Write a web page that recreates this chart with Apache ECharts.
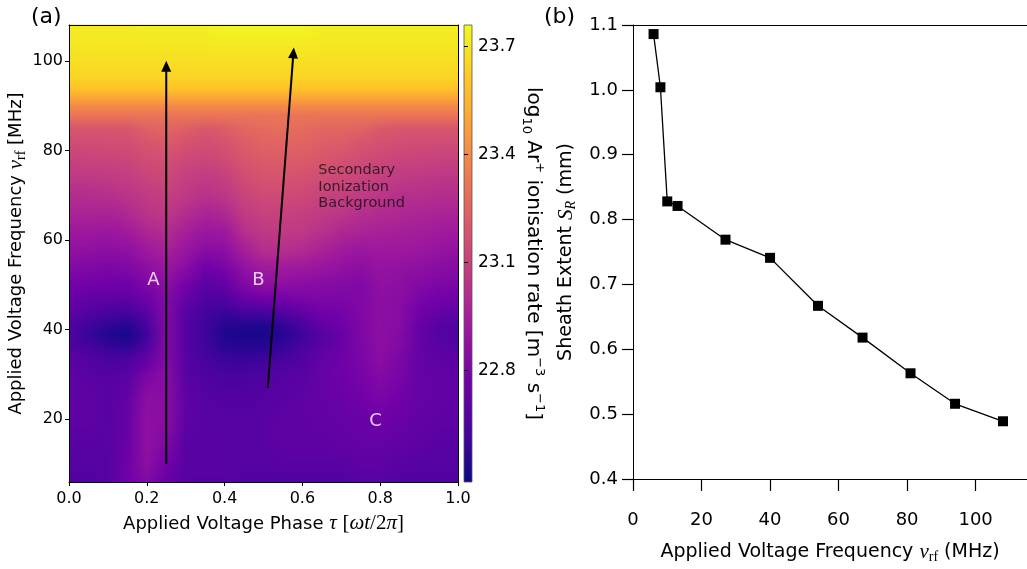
<!DOCTYPE html>
<html><head><meta charset="utf-8">
<script src="https://cdn.jsdelivr.net/npm/echarts@6/dist/echarts.min.js"></script>
<style>html,body{margin:0;padding:0;background:#fff}#c{width:1027px;height:569px}</style>
</head><body><div id="c"></div><script>
// ---------- Panel (a): ionisation-rate map (log10 values) ----------
const phases = [0,0.05,0.1,0.15,0.2,0.25,0.3,0.35,0.4,0.45,0.5,0.55,0.6,0.65,0.7,0.75,0.8,0.85,0.9,0.95,1.0];
const freqs = [6,10,15,20,25,30,34,37,39,41,44,47,50,54,58,62,66,70,74,78,82,85,88,90,92,94,97,100,104,108];
const rateAt6   = [22.67,22.67,22.68,22.77,22.82,22.74,22.68,22.68,22.68,22.67,22.67,22.67,22.67,22.67,22.67,22.68,22.68,22.67,22.67,22.67,22.67];
const rateAt10  = [22.68,22.68,22.68,22.76,22.86,22.77,22.69,22.69,22.69,22.68,22.68,22.69,22.69,22.69,22.69,22.71,22.71,22.69,22.68,22.68,22.68];
const rateAt15  = [22.69,22.69,22.69,22.74,22.87,22.82,22.69,22.69,22.69,22.68,22.69,22.71,22.71,22.71,22.72,22.73,22.73,22.72,22.71,22.69,22.69];
const rateAt20  = [22.71,22.71,22.69,22.73,22.87,22.85,22.71,22.69,22.68,22.68,22.69,22.71,22.71,22.72,22.73,22.74,22.76,22.74,22.72,22.71,22.71];
const rateAt25  = [22.71,22.71,22.69,22.72,22.85,22.85,22.71,22.68,22.67,22.67,22.68,22.69,22.71,22.73,22.74,22.77,22.80,22.77,22.73,22.72,22.71];
const rateAt30  = [22.71,22.69,22.68,22.69,22.80,22.85,22.69,22.66,22.64,22.64,22.66,22.68,22.69,22.73,22.76,22.79,22.83,22.80,22.73,22.72,22.71];
const rateAt34  = [22.69,22.67,22.64,22.64,22.71,22.83,22.69,22.63,22.60,22.59,22.60,22.63,22.67,22.72,22.76,22.80,22.85,22.81,22.73,22.71,22.69];
const rateAt37  = [22.67,22.62,22.58,22.55,22.64,22.83,22.68,22.62,22.55,22.54,22.54,22.58,22.63,22.69,22.74,22.81,22.86,22.83,22.73,22.69,22.67];
const rateAt39  = [22.66,22.60,22.54,22.52,22.62,22.83,22.68,22.62,22.54,22.52,22.52,22.55,22.62,22.68,22.74,22.81,22.86,22.83,22.73,22.68,22.66];
const rateAt41  = [22.67,22.62,22.58,22.55,22.64,22.83,22.68,22.62,22.55,22.54,22.54,22.58,22.64,22.71,22.76,22.81,22.86,22.84,22.74,22.69,22.67];
const rateAt44  = [22.71,22.67,22.64,22.63,22.69,22.83,22.69,22.63,22.60,22.63,22.64,22.67,22.72,22.77,22.78,22.82,22.86,22.84,22.77,22.73,22.71];
const rateAt47  = [22.74,22.72,22.71,22.71,22.76,22.83,22.73,22.66,22.67,22.74,22.77,22.78,22.80,22.81,22.81,22.82,22.86,22.85,22.80,22.77,22.76];
const rateAt50  = [22.78,22.77,22.76,22.76,22.81,22.86,22.78,22.69,22.72,22.82,22.86,22.86,22.85,22.84,22.83,22.82,22.87,22.86,22.83,22.81,22.80];
const rateAt54  = [22.83,22.82,22.81,22.82,22.86,22.91,22.85,22.77,22.80,22.88,22.93,22.93,22.92,22.90,22.88,22.86,22.89,22.88,22.87,22.85,22.84];
const rateAt58  = [22.88,22.87,22.86,22.87,22.92,22.96,22.90,22.85,22.86,22.95,23.02,23.02,23.00,22.97,22.93,22.91,22.92,22.92,22.91,22.89,22.88];
const rateAt62  = [22.92,22.92,22.91,22.93,22.98,23.01,22.95,22.91,22.92,23.02,23.06,23.07,23.06,23.03,22.99,22.97,22.96,22.95,22.94,22.93,22.92];
const rateAt66  = [22.97,22.97,22.97,22.99,23.04,23.06,23.01,22.97,22.99,23.07,23.10,23.10,23.09,23.07,23.05,23.02,23.00,22.99,22.98,22.97,22.97];
const rateAt70  = [23.01,23.01,23.02,23.04,23.07,23.09,23.06,23.03,23.05,23.11,23.14,23.14,23.13,23.11,23.09,23.07,23.05,23.02,23.02,23.01,23.01];
const rateAt74  = [23.06,23.06,23.07,23.08,23.11,23.13,23.09,23.07,23.09,23.15,23.18,23.18,23.17,23.15,23.13,23.11,23.09,23.07,23.06,23.05,23.05];
const rateAt78  = [23.10,23.11,23.11,23.12,23.15,23.16,23.13,23.12,23.14,23.19,23.21,23.22,23.21,23.19,23.17,23.15,23.13,23.11,23.11,23.10,23.10];
const rateAt82  = [23.15,23.15,23.16,23.16,23.19,23.21,23.18,23.16,23.18,23.22,23.25,23.25,23.25,23.23,23.22,23.19,23.17,23.16,23.15,23.15,23.15];
const rateAt85  = [23.19,23.19,23.19,23.19,23.24,23.26,23.23,23.20,23.22,23.26,23.28,23.29,23.28,23.26,23.26,23.25,23.21,23.19,23.19,23.19,23.19];
const rateAt88  = [23.32,23.32,23.32,23.32,23.32,23.32,23.32,23.32,23.32,23.32,23.32,23.32,23.32,23.32,23.32,23.32,23.32,23.32,23.32,23.32,23.32];
const rateAt90  = [23.40,23.40,23.40,23.40,23.40,23.40,23.40,23.40,23.40,23.40,23.40,23.40,23.40,23.40,23.40,23.40,23.40,23.40,23.40,23.40,23.40];
const rateAt92  = [23.51,23.51,23.51,23.51,23.51,23.51,23.51,23.51,23.51,23.51,23.51,23.51,23.51,23.51,23.51,23.51,23.51,23.51,23.51,23.51,23.51];
const rateAt94  = [23.60,23.60,23.60,23.60,23.60,23.60,23.60,23.60,23.60,23.60,23.60,23.60,23.60,23.60,23.60,23.60,23.60,23.60,23.60,23.60,23.60];
const rateAt97  = [23.66,23.66,23.66,23.66,23.66,23.66,23.66,23.66,23.66,23.66,23.66,23.66,23.66,23.66,23.66,23.66,23.66,23.66,23.66,23.66,23.66];
const rateAt100 = [23.68,23.68,23.68,23.68,23.68,23.68,23.68,23.68,23.68,23.68,23.68,23.68,23.68,23.68,23.68,23.68,23.68,23.68,23.68,23.68,23.68];
const rateAt104 = [23.71,23.71,23.71,23.71,23.71,23.71,23.71,23.71,23.72,23.72,23.72,23.72,23.72,23.71,23.71,23.71,23.71,23.71,23.71,23.71,23.71];
const rateAt108 = [23.72,23.72,23.72,23.72,23.73,23.73,23.73,23.73,23.75,23.75,23.75,23.75,23.75,23.73,23.73,23.73,23.73,23.73,23.73,23.73,23.73];
const ionRate = [rateAt6,rateAt10,rateAt15,rateAt20,rateAt25,rateAt30,rateAt34,rateAt37,rateAt39,rateAt41,rateAt44,rateAt47,rateAt50,
  rateAt54,rateAt58,rateAt62,rateAt66,rateAt70,rateAt74,rateAt78,rateAt82,rateAt85,rateAt88,rateAt90,rateAt92,rateAt94,rateAt97,rateAt100,rateAt104,rateAt108];

const colorbarRange = [22.49, 23.76];
const colorbarTicks = [22.8, 23.1, 23.4, 23.7];
const phaseTicks = [0, 0.2, 0.4, 0.6, 0.8, 1.0];
const freqTicks = [20, 40, 60, 80, 100];

// annotations of panel (a)
const arrowA = [0.25, 10, 0.25, 100];
const arrowB = [0.511, 27, 0.578, 103];
const regionLabels = ['A', 'B', 'C'];
const regionPos = [[0.217, 51], [0.487, 51], [0.788, 19.5]];
const noteText = 'Secondary\nIonization\nBackground';
const notePos = [0.641, 71.9];

// ---------- Panel (b): sheath extent ----------
const rfFreq = [6, 8, 10, 13, 27, 40, 54, 67, 81, 94, 108];
const sheathExtent = [1.086, 1.004, 0.828, 0.821, 0.769, 0.741, 0.667, 0.618, 0.563, 0.516, 0.489];

// ---------- colour map (plasma) ----------
const plasmaStops = ['#0d0887','#46039f','#7201a8','#9c179e','#bd3786','#d8576b','#ed7953','#fb9f3a','#fdca26','#f0f921'];
const plasmaRGB = plasmaStops.map(h => [parseInt(h.substr(1,2),16), parseInt(h.substr(3,2),16), parseInt(h.substr(5,2),16)]);
function plasma(t) {
  t = Math.max(0, Math.min(1, t));
  const s = t * (plasmaRGB.length - 1);
  const i = Math.min(plasmaRGB.length - 2, Math.floor(s));
  const f = s - i;
  const a = plasmaRGB[i], b = plasmaRGB[i + 1];
  return 'rgb(' + Math.round(a[0] + (b[0]-a[0])*f) + ',' + Math.round(a[1] + (b[1]-a[1])*f) + ',' + Math.round(a[2] + (b[2]-a[2])*f) + ')';
}
function colorOf(v) { return plasma((v - colorbarRange[0]) / (colorbarRange[1] - colorbarRange[0])); }

const FONT = 'DejaVu Sans';
const MATH = 'Liberation Serif';
const chart = echarts.init(document.getElementById('c'), null, {renderer: 'canvas', width: 1027, height: 569});

function heatBand(params, api) {
  const j = api.value(2);
  const lo = ionRate[j], hi = ionRate[j + 1];
  const yLo = api.coord([0, freqs[j]])[1];
  const yHi = api.coord([0, freqs[j + 1]])[1];
  const xs = phases.map(p => api.coord([p, freqs[j]])[0]);
  const x0 = xs[0], x1 = xs[xs.length - 1];
  const n = Math.max(1, Math.ceil(Math.abs(yLo - yHi)));
  const children = [];
  for (let k = 0; k < n; k++) {
    const sm = (k + 0.5) / n;
    const ya = yLo + (yHi - yLo) * k / n;
    const yb = yLo + (yHi - yLo) * (k + 1) / n;
    const stops = phases.map((p, i) => ({offset: (xs[i] - x0) / (x1 - x0), color: colorOf(lo[i] * (1 - sm) + hi[i] * sm)}));
    children.push({type: 'rect', shape: {x: x0, y: Math.min(ya, yb) - 0.4, width: x1 - x0, height: Math.abs(yb - ya) + 0.8},
      style: {fill: {type: 'linear', x: 0, y: 0, x2: 1, y2: 0, colorStops: stops}}});
  }
  return {type: 'group', children};
}

function arrowItem(params, api) {
  const s = api.coord([api.value(0), api.value(1)]);
  const e = api.coord([api.value(2), api.value(3)]);
  const dx = e[0] - s[0], dy = e[1] - s[1];
  const len = Math.sqrt(dx*dx + dy*dy);
  const ux = dx / len, uy = dy / len;
  const hl = 11, hw = 5;
  const bx = e[0] - ux * hl, by = e[1] - uy * hl;
  return {type: 'group', children: [
    {type: 'line', shape: {x1: s[0], y1: s[1], x2: bx + ux, y2: by + uy}, style: {stroke: '#000', lineWidth: 2}},
    {type: 'polygon', shape: {points: [[e[0], e[1]], [bx - uy*hw, by + ux*hw], [bx + uy*hw, by - ux*hw]]}, style: {fill: '#000'}}
  ]};
}

function colorbarItem(params, api) {
  const a = api.coord([0, colorbarRange[0]]);
  const b = api.coord([1, colorbarRange[1]]);
  return {type: 'rect', shape: {x: a[0], y: b[1], width: b[0] - a[0], height: a[1] - b[1]},
    style: {fill: {type: 'linear', x: 0, y: 1, x2: 0, y2: 0,
      colorStops: plasmaStops.map((c, i) => ({offset: i / (plasmaStops.length - 1), color: c}))},
      stroke: '#555', lineWidth: 0.8}};
}

const mathRich = {
  it: {fontFamily: MATH, fontStyle: 'italic', fontSize: 21, color: '#000'},
  rm: {fontFamily: MATH, fontSize: 21, color: '#000'},
  sub: {fontFamily: MATH, fontSize: 14, verticalAlign: 'bottom', color: '#000'},
  subit: {fontFamily: MATH, fontStyle: 'italic', fontSize: 14, verticalAlign: 'bottom', color: '#000'},
  ssub: {fontFamily: FONT, fontSize: 13, verticalAlign: 'bottom', color: '#000'},
  sup: {fontFamily: FONT, fontSize: 13, verticalAlign: 'top', color: '#000'}
};

const frameAxis = {axisLine: {show: true, onZero: false, lineStyle: {color: '#000', width: 1}}, axisTick: {show: false}, axisLabel: {show: false}, splitLine: {show: false}, z: 5};

const option = {
  animation: false,
  backgroundColor: '#fff',
  textStyle: {fontFamily: FONT},
  grid: [
    {left: 69, top: 25, width: 389, height: 457},
    {left: 464, top: 25, width: 8, height: 457},
    {left: 633, top: 25, width: 405, height: 458}
  ],
  xAxis: [
    {gridIndex: 0, type: 'value', min: 0, max: 1, position: 'bottom', z: 5,
      axisLine: {show: true, onZero: false, lineStyle: {color: '#000', width: 1}},
      axisTick: {show: true, length: 4, customValues: phaseTicks, lineStyle: {color: '#000'}},
      axisLabel: {color: '#000', fontSize: 16, margin: 9, customValues: phaseTicks, formatter: v => v.toFixed(1)},
      splitLine: {show: false},
      name: 'Applied Voltage Phase {it|τ} {rm|[}{it|ωt}{rm|/2}{it|π}{rm|]}', nameLocation: 'middle', nameGap: 26,
      nameTextStyle: {fontSize: 18, color: '#000', lineHeight: 24, rich: mathRich}},
    Object.assign({gridIndex: 0, type: 'value', min: 0, max: 1, position: 'top'}, frameAxis),
    {gridIndex: 1, type: 'value', min: 0, max: 1, show: false},
    {gridIndex: 2, type: 'value', min: 0, max: 115, interval: 20, position: 'bottom',
      axisLine: {show: true, onZero: false, lineStyle: {color: '#000', width: 1}},
      axisTick: {show: true, length: 12, lineStyle: {color: '#000', width: 1.2}},
      axisLabel: {color: '#000', fontSize: 18, margin: 32, showMaxLabel: false},
      splitLine: {show: false},
      name: 'Applied Voltage Frequency {it|ν}{sub|rf} (MHz)', nameLocation: 'middle', nameGap: 61,
      nameTextStyle: {fontSize: 19, color: '#000', lineHeight: 24, rich: mathRich}},
    Object.assign({gridIndex: 2, type: 'value', min: 0, max: 115, position: 'top'}, frameAxis)
  ],
  yAxis: [
    {gridIndex: 0, type: 'value', min: 6, max: 108, position: 'left', z: 5,
      axisLine: {show: true, onZero: false, lineStyle: {color: '#000', width: 1}},
      axisTick: {show: true, length: 4, customValues: freqTicks, lineStyle: {color: '#000'}},
      axisLabel: {color: '#000', fontSize: 16, margin: 6, customValues: freqTicks},
      splitLine: {show: false},
      name: 'Applied Voltage Frequency {it|ν}{sub|rf} [MHz]', nameLocation: 'middle', nameGap: 31,
      nameTextStyle: {fontSize: 18, color: '#000', lineHeight: 24, rich: mathRich}},
    Object.assign({gridIndex: 0, type: 'value', min: 6, max: 108, position: 'right'}, frameAxis),
    {gridIndex: 1, type: 'value', min: colorbarRange[0], max: colorbarRange[1], position: 'right', z: 5,
      axisLine: {show: false},
      axisTick: {show: true, length: 4, customValues: colorbarTicks, lineStyle: {color: '#000'}},
      axisLabel: {color: '#000', fontSize: 17, margin: 6, customValues: colorbarTicks, formatter: v => v.toFixed(1)},
      splitLine: {show: false},
      name: 'log{ssub|10} Ar{sup|+} ionisation rate [m{sup|−3} s{sup|−1}]', nameLocation: 'middle', nameGap: 47, nameRotate: -90,
      nameTextStyle: {fontSize: 20, color: '#000', lineHeight: 26, rich: mathRich}},
    {gridIndex: 2, type: 'value', min: 0.4, max: 1.1, interval: 0.1, position: 'left',
      axisLine: {show: true, onZero: false, lineStyle: {color: '#000', width: 1}},
      axisTick: {show: true, length: 11, lineStyle: {color: '#000', width: 1.2}},
      axisLabel: {color: '#000', fontSize: 18, margin: 15, formatter: v => v.toFixed(1)},
      splitLine: {show: false},
      name: 'Sheath Extent {it|S}{subit|R} (mm)', nameLocation: 'middle', nameGap: 55,
      nameTextStyle: {fontSize: 19, color: '#000', lineHeight: 24, rich: mathRich}}
  ],
  graphic: [
    {type: 'text', left: 31, top: 6, style: {text: '(a)', font: '22px "DejaVu Sans"', fill: '#000'}},
    {type: 'text', left: 544, top: 6, style: {text: '(b)', font: '22px "DejaVu Sans"', fill: '#000'}}
  ],
  series: [
    {type: 'custom', xAxisIndex: 0, yAxisIndex: 0, silent: true, z: 1,
      data: freqs.slice(0, -1).map((f, j) => [0, f, j]), renderItem: heatBand},
    {type: 'custom', xAxisIndex: 0, yAxisIndex: 0, silent: true, z: 3,
      data: [arrowA, arrowB], renderItem: arrowItem},
    {type: 'scatter', xAxisIndex: 0, yAxisIndex: 0, silent: true, z: 4, symbolSize: 1,
      itemStyle: {color: 'rgba(0,0,0,0)'},
      data: regionPos.map((p, i) => [p[0], p[1], regionLabels[i]]),
      label: {show: true, position: 'inside', formatter: p => p.value[2], color: '#fff', fontSize: 18, fontFamily: FONT}},
    {type: 'scatter', xAxisIndex: 0, yAxisIndex: 0, silent: true, z: 4, symbolSize: 1,
      itemStyle: {color: 'rgba(0,0,0,0)'},
      data: [[notePos[0], notePos[1]]],
      label: {show: true, position: 'inside', align: 'left', verticalAlign: 'middle', formatter: noteText,
        color: '#111', fontSize: 14.5, lineHeight: 16.7, fontFamily: FONT}},
    {type: 'custom', xAxisIndex: 2, yAxisIndex: 2, silent: true, data: [[0, colorbarRange[0]]], renderItem: colorbarItem},
    {type: 'line', xAxisIndex: 3, yAxisIndex: 3, silent: true,
      data: rfFreq.map((f, i) => [f, sheathExtent[i]]),
      symbol: 'rect', symbolSize: 10, showAllSymbol: true,
      lineStyle: {color: '#000', width: 1.3}, itemStyle: {color: '#000'}}
  ]
};
chart.setOption(option);
</script></body></html>
